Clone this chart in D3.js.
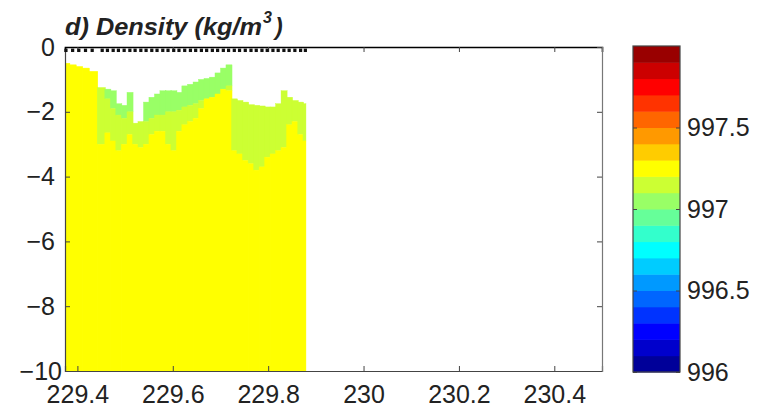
<!DOCTYPE html>
<html>
<head>
<meta charset="utf-8">
<script src="https://cdn.jsdelivr.net/npm/d3@7"></script>
<style>
  html, body { margin: 0; padding: 0; background: #fff; }
  svg { display: block; }
  text { font-family: "Liberation Sans", Arial, Helvetica, sans-serif; fill: #222; }
</style>
</head>
<body>
<svg id="chart" width="767" height="411"></svg>
<script>
// Profile longitudes (deg E) along the transect
const profileLon = [
  229.376, 229.390, 229.403, 229.417, 229.431,
  229.452, 229.463, 229.475, 229.486, 229.498, 229.510, 229.521, 229.533,
  229.544, 229.556, 229.567, 229.579, 229.590, 229.602, 229.613, 229.625,
  229.637, 229.648, 229.660, 229.671, 229.683, 229.694, 229.706, 229.717,
  229.729, 229.740, 229.752, 229.764, 229.775, 229.787, 229.798, 229.810,
  229.821, 229.833, 229.844, 229.856, 229.868, 229.878
];
// Shallowest valid sample of each profile (m)
const topDepth = [
  -0.50, -0.55, -0.60, -0.65, -0.75,
  -1.25, -1.30, -1.35, -1.75, -1.80, -1.40, -2.35, -2.30,
  -1.70, -1.55, -1.45, -1.35, -1.35, -1.35, -1.40, -1.20,
  -1.15, -1.08, -1.00, -0.97, -0.93, -0.80, -0.65, -0.55,
  -1.60, -1.65, -1.70, -1.78, -1.80, -1.82, -1.85, -1.85,
  -1.75, -1.35, -1.55, -1.65, -1.70, -1.75
];
// Depth of the 997.1 kg/m3 isopycnal (base of the lightest water)
const iso9971 = [
  -0.50, -0.55, -0.60, -0.65, -0.75,
  -1.25, -1.60, -1.90, -2.10, -2.20, -2.00, -2.35, -2.30,
  -2.30, -2.20, -2.10, -2.10, -2.00, -2.00, -1.95, -1.85,
  -1.80, -1.75, -1.65, -1.60, -1.55, -1.45, -1.30, -1.20,
  -1.60, -1.65, -1.70, -1.78, -1.80, -1.82, -1.85, -1.85,
  -1.75, -1.35, -1.55, -1.65, -1.70, -1.75
];
// Depth of the 997.2 kg/m3 isopycnal
const iso9972 = [
  -0.50, -0.55, -0.60, -0.65, -0.75,
  -3.00, -2.65, -2.90, -3.20, -3.00, -2.70, -3.00, -3.10,
  -3.00, -2.70, -2.60, -2.60, -3.00, -3.20, -2.60, -2.40,
  -2.30, -2.20, -1.90, -1.60, -1.55, -1.45, -1.30, -1.35,
  -3.20, -3.30, -3.50, -3.60, -3.80, -3.70, -3.40, -3.30,
  -3.20, -3.10, -2.40, -2.30, -2.70, -2.90
];
// Representative density of the three layers (kg/m3)
const layerDensity = [997.05, 997.15, 997.25];
const bottomDepth = -10;

const xTicks = [229.4, 229.6, 229.8, 230, 230.2, 230.4];
const yTicks = [0, -2, -4, -6, -8, -10];
const cbarTicks = [996, 996.5, 997, 997.5];
const cbarRange = [996, 998];
const nLevels = 20;

const svg = d3.select("#chart");
svg.append("rect").attr("width", 767).attr("height", 411).attr("fill", "#fff");

const plot = { left: 65, right: 602, top: 47, bottom: 371 };
const x = d3.scaleLinear().domain([229.374, 230.5]).range([plot.left, plot.right]);
const y = d3.scaleLinear().domain([-10, 0]).range([plot.bottom, plot.top]);

// jet colour map sampled at the centre of each of the 20 density bands
function jet(t) {
  const c = v => Math.max(0, Math.min(1, v));
  return d3.rgb(255 * c(1.5 - Math.abs(4 * t - 3)),
                255 * c(1.5 - Math.abs(4 * t - 2)),
                255 * c(1.5 - Math.abs(4 * t - 1))).formatHex();
}
const bandColors = d3.range(nLevels).map(i => jet((i + 0.5) / nLevels));
const color = d3.scaleQuantize().domain(cbarRange).range(bandColors);

// ---- density field ----
svg.append("clipPath").attr("id", "plotClip")
  .append("rect")
  .attr("x", plot.left).attr("y", plot.top)
  .attr("width", plot.right - plot.left).attr("height", plot.bottom - plot.top);

const n = profileLon.length;
const cells = [];
for (let i = 0; i < n; i++) {
  const x0 = i === 0 ? x.domain()[0] : (profileLon[i - 1] + profileLon[i]) / 2;
  const x1 = i === n - 1 ? profileLon[i] : (profileLon[i] + profileLon[i + 1]) / 2;
  const bounds = [topDepth[i], iso9971[i], iso9972[i], bottomDepth];
  for (let k = 0; k < 3; k++) {
    if (bounds[k] > bounds[k + 1]) {
      cells.push({ x0, x1, d0: bounds[k], d1: bounds[k + 1], rho: layerDensity[k] });
    }
  }
}

svg.append("g").attr("clip-path", "url(#plotClip)")
  .selectAll("rect").data(cells).join("rect")
  .attr("x", d => x(d.x0))
  .attr("y", d => y(d.d0))
  .attr("width", d => x(d.x1) - x(d.x0) + 0.6)
  .attr("height", d => y(d.d1) - y(d.d0))
  .attr("fill", d => color(d.rho))
  .attr("stroke", d => color(d.rho))
  .attr("stroke-width", 0.4);

// ---- axes (MATLAB-style box with inward ticks) ----
const fontSize = 25;
const axBottom = svg.append("g").attr("transform", `translate(0,${plot.bottom})`)
  .call(d3.axisBottom(x).tickValues(xTicks).tickSize(-5).tickPadding(14)
    .tickFormat(d => d3.format("")(d)));
const axLeft = svg.append("g").attr("transform", `translate(${plot.left},0)`)
  .call(d3.axisLeft(y).tickValues(yTicks).tickSize(-5).tickPadding(10)
    .tickFormat(d => d3.format("")(d)));
const axTop = svg.append("g").attr("transform", `translate(0,${plot.top})`)
  .call(d3.axisTop(x).tickValues(xTicks).tickSize(-5).tickFormat(""));
const axRight = svg.append("g").attr("transform", `translate(${plot.right},0)`)
  .call(d3.axisRight(y).tickValues(yTicks).tickSize(-5).tickFormat(""));

[axBottom, axLeft, axTop, axRight].forEach(g => {
  g.select(".domain").attr("stroke", "#444").attr("stroke-width", 1.2);
  g.selectAll(".tick line").attr("stroke", "#444");
  g.selectAll("text").attr("font-size", fontSize).attr("font-family", null).attr("fill", "#222");
});
axTop.select(".domain").attr("stroke", "#000").attr("stroke-width", 1.6);
axRight.select(".domain").attr("stroke", "#777");
axLeft.selectAll(".tick text").filter(d => d === -10).attr("x", -3);

// profile positions along the surface
svg.append("g").selectAll("rect").data(profileLon).join("rect")
  .attr("x", d => x(d) - 1.6).attr("y", y(-0.05))
  .attr("width", 3.2).attr("height", 3.4)
  .attr("fill", "#111");

// ---- title ----
const titleG = svg.append("g")
  .attr("font-weight", "bold").attr("font-style", "italic");
titleG.append("text")
  .attr("x", 65).attr("y", 35)
  .attr("font-size", 23)
  .attr("textLength", 197).attr("lengthAdjust", "spacingAndGlyphs")
  .text("d) Density (kg/m");
titleG.append("text")
  .attr("x", 263).attr("y", 23)
  .attr("font-size", 16)
  .text("3");
titleG.append("text")
  .attr("x", 275).attr("y", 35)
  .attr("font-size", 23)
  .text(")");

// ---- colour bar ----
const cb = { left: 633, right: 680, top: 46, bottom: 372 };
const cy = d3.scaleLinear().domain(cbarRange).range([cb.bottom, cb.top]);
const step = (cbarRange[1] - cbarRange[0]) / nLevels;
const cbG = svg.append("g");
cbG.selectAll("rect").data(bandColors).join("rect")
  .attr("x", cb.left)
  .attr("y", (c, i) => cy(cbarRange[0] + (i + 1) * step))
  .attr("width", cb.right - cb.left)
  .attr("height", (c, i) => cy(cbarRange[0] + i * step) - cy(cbarRange[0] + (i + 1) * step) + 0.5)
  .attr("fill", c => c);
cbG.append("rect")
  .attr("x", cb.left).attr("y", cb.top)
  .attr("width", cb.right - cb.left).attr("height", cb.bottom - cb.top)
  .attr("fill", "none").attr("stroke", "#444").attr("stroke-width", 1.2);

const cbAxis = svg.append("g").attr("transform", `translate(${cb.right},0)`)
  .call(d3.axisRight(cy).tickValues(cbarTicks).tickSize(-4).tickPadding(7)
    .tickFormat(d => d3.format("")(d)));
const cbAxisL = svg.append("g").attr("transform", `translate(${cb.left},0)`)
  .call(d3.axisLeft(cy).tickValues(cbarTicks).tickSize(-4).tickFormat(""));
[cbAxis, cbAxisL].forEach(g => {
  g.select(".domain").remove();
  g.selectAll(".tick line").attr("stroke", "#444");
  g.selectAll("text").attr("font-size", fontSize).attr("font-family", null).attr("fill", "#222");
});
</script>
</body>
</html>
